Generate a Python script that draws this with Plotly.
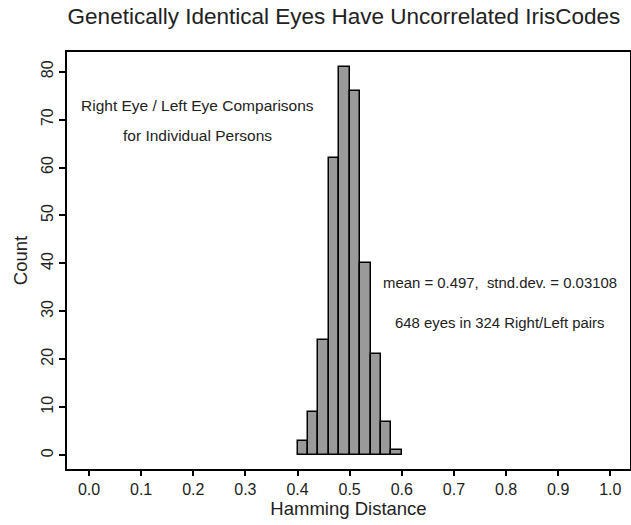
import plotly.graph_objects as go

bin_left = [0.40, 0.42, 0.44, 0.46, 0.48, 0.50, 0.52, 0.54, 0.56, 0.58]
counts = [3, 9, 24, 62, 81, 76, 40, 21, 7, 1]
bin_width = 0.02
x_ticks = [0.0, 0.1, 0.2, 0.3, 0.4, 0.5, 0.6, 0.7, 0.8, 0.9, 1.0]
y_ticks = [0, 10, 20, 30, 40, 50, 60, 70, 80]

centers = [b + bin_width / 2 for b in bin_left]

font = "Liberation Sans, Arial, sans-serif"
txt = "#222222"

fig = go.Figure(go.Bar(
    x=centers, y=counts, width=[bin_width] * len(counts),
    marker=dict(color="#9a9a9a", line=dict(color="black", width=1.5)),
))

fig.update_layout(
    width=631, height=525,
    margin=dict(l=67, r=1, t=52, b=56),
    paper_bgcolor="white", plot_bgcolor="white",
    showlegend=False,
    font=dict(family=font, color=txt),
    title=dict(text="Genetically Identical Eyes Have Uncorrelated IrisCodes",
               x=344 / 631, xanchor="center", xref="container",
               y=1 - 16 / 525, yanchor="middle", yref="container",
               font=dict(size=22.5, family=font, color=txt)),
    bargap=0,
)
fig.update_xaxes(
    range=[-0.0422, 1.0378], tickvals=x_ticks, ticktext=[f"{v:.1f}" for v in x_ticks],
    showline=True, linecolor="black", linewidth=2, mirror=True,
    ticks="outside", ticklen=5, tickwidth=1.5, tickcolor="black",
    showgrid=False, zeroline=False, automargin=False,
    tickfont=dict(size=16, family=font, color=txt),
    title=dict(text="Hamming Distance", font=dict(size=18.5, family=font, color=txt), standoff=4),
)
fig.update_yaxes(
    range=[-2.9, 84.1], tickvals=y_ticks,
    showline=True, linecolor="black", linewidth=2, mirror=True,
    ticks="outside", ticklen=6, tickwidth=1.5, tickcolor="black",
    showgrid=False, zeroline=False, tickangle=-90, automargin=False,
    tickfont=dict(size=16, family=font, color=txt),
    title=dict(text="Count", font=dict(size=18.5, family=font, color=txt), standoff=6),
)

left_font = dict(size=15.5, family=font, color=txt)
right_font = dict(size=14.9, family=font, color=txt)
fig.add_annotation(x=0.2086, y=72.9, xref="x", yref="y", text="Right Eye / Left Eye Comparisons",
                   showarrow=False, font=left_font)
fig.add_annotation(x=0.2086, y=66.6, xref="x", yref="y", text="for Individual Persons",
                   showarrow=False, font=left_font)
fig.add_annotation(x=0.788, y=35.9, xref="x", yref="y", text="mean = 0.497,  stnd.dev. = 0.03108",
                   showarrow=False, font=right_font)
fig.add_annotation(x=0.788, y=27.6, xref="x", yref="y", text="648 eyes in 324 Right/Left pairs",
                   showarrow=False, font=right_font)

fig.write_html("out.html", config={"displayModeBar": False},
               post_script="document.body.style.margin='0';document.body.style.overflow='hidden';")
